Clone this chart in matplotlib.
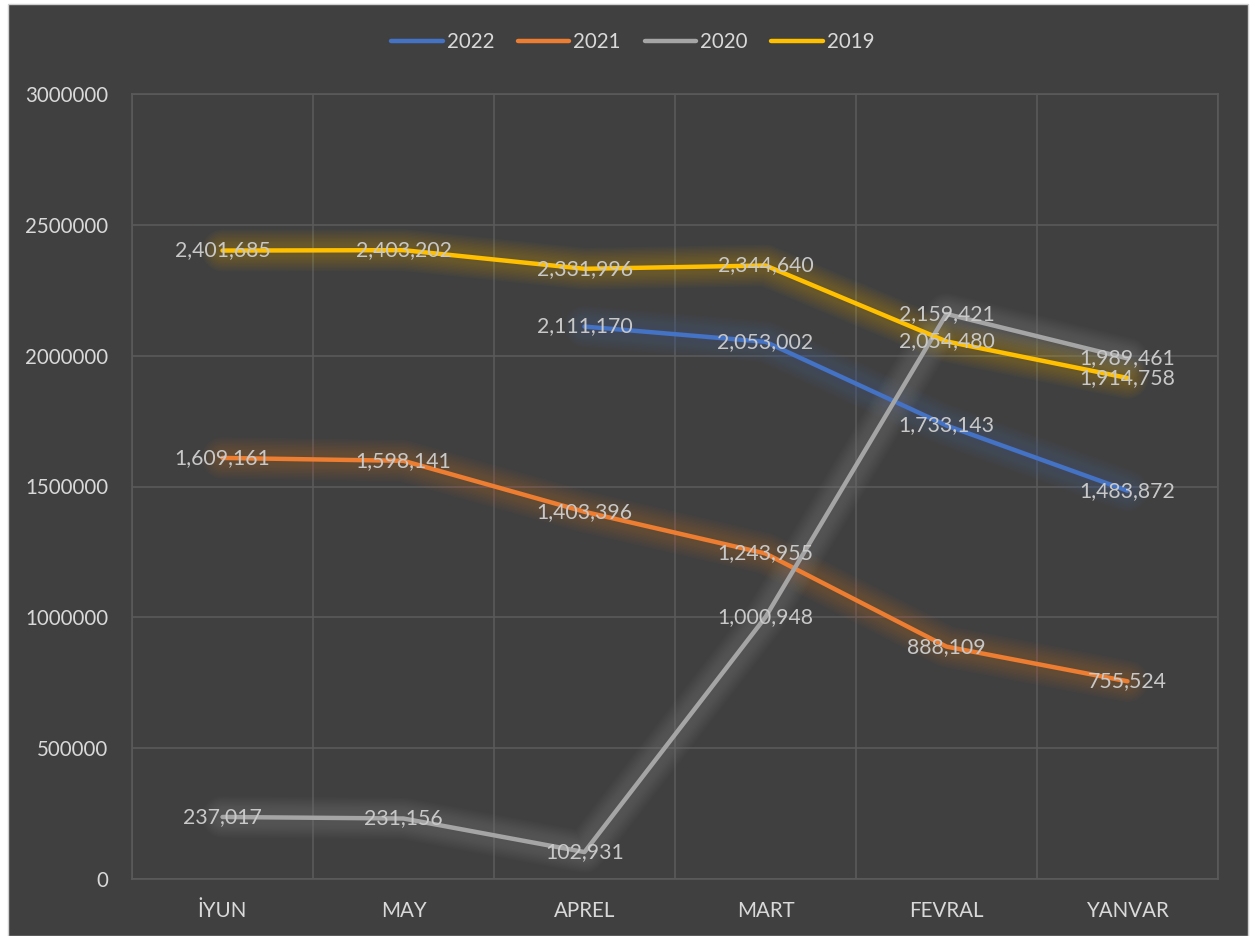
import matplotlib

matplotlib.use("Agg")
import matplotlib.pyplot as plt
import matplotlib.ticker as mticker
from matplotlib.patches import Rectangle

MONTHS = ["İYUN", "MAY", "APREL", "MART", "FEVRAL", "YANVAR"]
SALES_2022 = [None, None, 2111170, 2053002, 1733143, 1483872]
SALES_2021 = [1609161, 1598141, 1403396, 1243955, 888109, 755524]
SALES_2020 = [237017, 231156, 102931, 1000948, 2159421, 1989461]
SALES_2019 = [2401685, 2403202, 2331996, 2344640, 2054480, 1914758]

SERIES = [
    ("2022", SALES_2022, "#4472C4"),
    ("2021", SALES_2021, "#ED7D31"),
    ("2020", SALES_2020, "#A5A5A5"),
    ("2019", SALES_2019, "#FFC000"),
]

BG = "#404040"
GRID = "#5A5A5A"
TEXT = "#D9D9D9"
LABEL = "#C8C8C8"

plt.rcParams["font.family"] = ["Lato", "DejaVu Sans"]

W, H = 1253, 936
fig = plt.figure(figsize=(W / 100, H / 100), dpi=100, facecolor="white")
fig.patches.append(
    Rectangle((8 / W, 0), 1240 / W, 1 - 4 / H, transform=fig.transFigure,
              facecolor=BG, edgecolor="#D0D0D0", linewidth=1, zorder=-10)
)

ax = fig.add_axes([132 / W, 57 / H, 1086 / W, 785 / H])
ax.patch.set_alpha(0)

x = list(range(len(MONTHS)))
handles = []
for name, vals, color in SERIES:
    pts = [(i, v) for i, v in zip(x, vals) if v is not None]
    xs = [p[0] for p in pts]
    ys = [p[1] for p in pts]
    # soft glow under each line
    for w in range(30, 8, -2):
        ax.plot(xs, ys, color=color, lw=w, alpha=0.025, solid_capstyle="round",
                solid_joinstyle="round", zorder=2)
    (ln,) = ax.plot(xs, ys, color=color, lw=3.2, solid_capstyle="round",
                    solid_joinstyle="round", zorder=3, label=name)
    handles.append(ln)
    for xi, yi in pts:
        ax.text(xi, yi, f"{yi:,}", ha="center", va="center", fontsize=15.3,
                color=LABEL, zorder=5)

ax.set_xlim(-0.5, len(MONTHS) - 0.5)
ax.set_ylim(0, 3000000)
ax.yaxis.set_major_locator(mticker.MultipleLocator(500000))
ax.yaxis.set_major_formatter(mticker.FuncFormatter(lambda v, _: f"{v:.0f}"))
ax.set_xticks(x)
ax.set_xticklabels(MONTHS)
ax.set_xticks([i + 0.5 for i in range(-1, len(MONTHS))], minor=True)

ax.grid(True, axis="y", which="major", color=GRID, lw=1.2)
ax.grid(True, axis="x", which="minor", color=GRID, lw=1.2)
ax.set_axisbelow(True)
for s in ax.spines.values():
    s.set_color(GRID)
    s.set_linewidth(1.2)

ax.tick_params(axis="both", which="both", length=0, colors=TEXT, labelsize=14.8)
ax.tick_params(axis="x", pad=16)
ax.tick_params(axis="y", pad=17)

leg = fig.legend(handles=handles, loc="center", bbox_to_anchor=(0.505, 1 - 42 / H),
                 ncol=4, frameon=False, fontsize=14.8, handlelength=2.5,
                 handletextpad=0.2, columnspacing=1.15, labelcolor=TEXT)

fig.savefig("out.png", dpi=100, facecolor="white")
